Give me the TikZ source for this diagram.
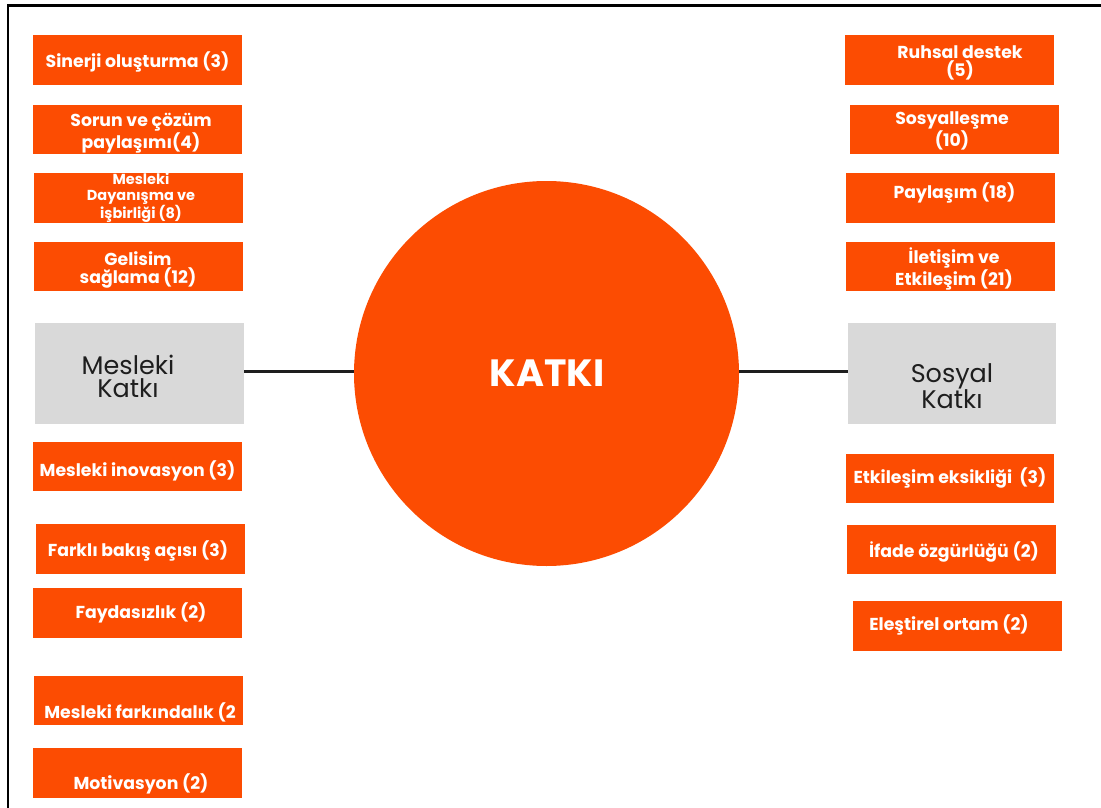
\documentclass[tikz,border=0pt]{standalone}
\usepackage{fontspec}
\setmainfont{Poppins}
\definecolor{korange}{RGB}{252,76,2}
\definecolor{kgrey}{RGB}{217,217,217}
\definecolor{kdark}{RGB}{30,30,30}
\begin{document}
\begin{tikzpicture}[x=1pt,y=-1pt,
  obox/.style={fill=korange,draw=none,inner sep=0pt,minimum width=209pt,minimum height=50pt},
  gbox/.style={fill=kgrey,draw=none,inner sep=0pt,minimum width=209pt,minimum height=101pt},
  otext/.style={text=white,font=\bfseries\fontsize{17.3}{18}\selectfont,align=center,inner sep=0pt,yshift=-2pt},
  stext/.style={text=white,font=\bfseries\fontsize{14.5}{15.5}\selectfont,align=center,inner sep=0pt},
  gtext/.style={text=kdark,font=\fontsize{25.5}{23}\selectfont,align=center,inner sep=0pt},
  conn/.style={draw=kdark,line width=3pt}]
\useasboundingbox (0,0) rectangle (1101,808);
\draw[line width=2.5pt,black] (8,808) -- (8,5.3) -- (1101,5.3);
% centre
\node[circle,fill=korange,minimum size=385pt,inner sep=0pt] (kat) at (546.5,373.5) {};
\node[text=white,font=\bfseries\fontsize{38}{40}\selectfont,inner sep=0pt] (katt) at (547,373) {KATKI};
% grey boxes
\node[gbox] (mk) at (139.5,373.5) {};
\node[gtext] (mkt) at (128,376) {Mesleki\\Katkı};
\node[gbox,minimum width=208pt] (sk) at (952,373.5) {};
\node[gtext] (skt) at (952,386) {Sosyal\\Katkı};
\draw[conn] (mk.east |- 0,371) -- (kat.west |- 0,371);
\draw[conn] (kat.east |- 0,371) -- (sk.west |- 0,371);
% left boxes
\node[obox] (l1) at (137.5,60) {};
\node[otext] (l1t) at (137.5,60) {Sinerji oluşturma (3)};
\node[obox,minimum height=49pt] (l2) at (137.5,129.5) {};
\node[otext] (l2t) at (141,131) {Sorun ve çözüm\\paylaşımı(4)};
\node[obox] (l3) at (138.5,198) {};
\node[stext] (l3t) at (141,198) {Mesleki\\Dayanışma ve\\işbirliği (8)};
\node[obox,minimum height=49pt] (l4) at (138.5,266.5) {};
\node[otext] (l4t) at (138,268) {Gelisim\\sağlama (12)};
\node[obox,minimum height=49pt] (l5) at (137.5,466.5) {};
\node[otext] (l5t) at (137.5,469) {Mesleki inovasyon (3)};
\node[obox] (l6) at (140.5,549) {};
\node[otext] (l6t) at (138,549) {Farklı bakış açısı (3)};
\node[obox] (l7) at (137.5,613) {};
\node[otext] (l7t) at (141,611) {Faydasızlık (2)};
\node[obox,minimum height=49pt] (l8) at (138.5,700.5) {};
\node[otext] (l8t) at (140,710) {Mesleki farkındalık (2};
\node[obox] (l9) at (137.5,773) {};
\node[otext] (l9t) at (141,782) {Motivasyon (2)};
% right boxes
\node[obox] (r1) at (949.5,60) {};
\node[otext] (r1t) at (960,61) {Ruhsal destek\\(5)};
\node[obox,minimum height=49pt] (r2) at (954.5,129.5) {};
\node[otext] (r2t) at (952,129) {Sosyalleşme\\(10)};
\node[obox] (r3) at (950.5,198) {};
\node[otext] (r3t) at (954.5,191) {Paylaşım (18)};
\node[obox,minimum height=49pt] (r4) at (950.5,266.5) {};
\node[otext] (r4t) at (954,267) {İletişim ve\\Etkileşim (21)};
\node[obox,minimum width=208pt,minimum height=49pt] (r5) at (950,478.5) {};
\node[otext] (r5t) at (950,476) {Etkileşim eksikliği~~(3)};
\node[obox,minimum height=49pt] (r6) at (951.5,549.5) {};
\node[otext] (r6t) at (954,550) {İfade özgürlüğü (2)};
\node[obox] (r7) at (957.5,626) {};
\node[otext] (r7t) at (949,623) {Eleştirel ortam (2)};
\end{tikzpicture}
\end{document}
